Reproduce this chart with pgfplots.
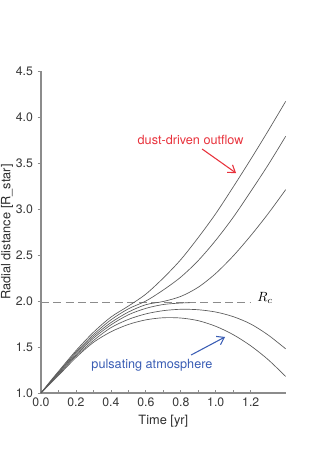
\documentclass[border=0pt]{standalone}
\usepackage{fontspec}
\setmainfont{TeX Gyre Heros}
\usepackage{pgfplots}
\pgfplotsset{compat=1.18}
\usetikzlibrary{arrows.meta}

\definecolor{curve}{HTML}{5A5A5A}
\definecolor{spine}{HTML}{8C8C8C}
\definecolor{dustred}{HTML}{E8323C}
\definecolor{pulsblue}{HTML}{3A5DB4}

\begin{document}
\begin{tikzpicture}
\useasboundingbox (-30.75pt,-52.5pt) rectangle (214.5pt,294.75pt);
\begin{axis}[
  at={(0,0)}, anchor=south west,
  scale only axis,
  width=183.5pt, height=241.5pt,
  xmin=0, xmax=1.4,
  ymin=1, ymax=4.5,
  axis lines*=left,
  axis line style={spine, line width=0.8pt},
  xtick={0,0.2,0.4,0.6,0.8,1.0,1.2},
  ytick={1,1.5,2,2.5,3,3.5,4,4.5},
  minor x tick num=1,
  xtick align=inside,
  ytick align=outside,
  major tick length=2.5pt,
  minor tick length=2.5pt,
  tick style={spine, line width=0.6pt},
  xticklabel style={/pgf/number format/.cd, fixed, fixed zerofill, precision=1},
  yticklabel style={/pgf/number format/.cd, fixed, fixed zerofill, precision=1},
  /pgf/number format/assume math mode=true,
  ticklabel style={font=\fontsize{9.2pt}{11pt}\selectfont, text=black!78},
  xlabel={Time [yr]},
  ylabel={Radial distance [R\_star]},
  every axis x label/.style={at={(axis description cs:0.5,0)}, anchor=center, yshift=-21.5pt, font=\fontsize{9.6pt}{11pt}\selectfont, text=black!82},
  every axis y label/.style={at={(axis description cs:0,0.5)}, xshift=-25.5pt, rotate=90, anchor=center, font=\fontsize{9.6pt}{11pt}\selectfont, text=black!82},
  clip=false,
]
% critical radius
\addplot[spine, line width=0.7pt, dash pattern=on 6pt off 3.2pt] coordinates {(0,1.98)(1.2,1.98)};

% three outflowing trajectories
\addplot[curve, line width=0.5pt, smooth] coordinates {
(0,1)(0.05,1.12)(0.1,1.235)(0.2,1.46)(0.3,1.66)(0.4,1.825)(0.5,1.945)(0.6,2.075)
(0.7,2.25)(0.8,2.45)(0.9,2.69)(1.0,2.95)(1.1,3.24)(1.2,3.54)(1.3,3.85)(1.4,4.17)};
\addplot[curve, line width=0.5pt, smooth] coordinates {
(0,1)(0.05,1.115)(0.1,1.225)(0.2,1.445)(0.3,1.635)(0.4,1.795)(0.5,1.915)(0.6,2.0)
(0.7,2.12)(0.8,2.26)(0.9,2.44)(1.0,2.66)(1.1,2.91)(1.2,3.19)(1.3,3.48)(1.4,3.79)};
\addplot[curve, line width=0.5pt, smooth] coordinates {
(0,1)(0.05,1.11)(0.1,1.22)(0.2,1.43)(0.3,1.615)(0.4,1.765)(0.5,1.88)(0.6,1.96)
(0.7,1.995)(0.8,2.05)(0.9,2.15)(1.0,2.3)(1.1,2.49)(1.2,2.71)(1.3,2.95)(1.4,3.21)};
% trajectory stalling at R_c
\addplot[curve, line width=0.5pt, smooth] coordinates {
(0,1)(0.05,1.105)(0.1,1.21)(0.2,1.415)(0.3,1.595)(0.4,1.74)(0.5,1.85)(0.6,1.92)
(0.7,1.962)(0.8,1.978)(0.85,1.981)};
% falling back
\addplot[curve, line width=0.5pt, smooth] coordinates {
(0,1)(0.05,1.1)(0.1,1.2)(0.2,1.4)(0.3,1.57)(0.4,1.71)(0.5,1.8)(0.6,1.86)
(0.7,1.895)(0.8,1.91)(0.9,1.905)(1.0,1.88)(1.1,1.83)(1.2,1.75)(1.3,1.63)(1.4,1.48)};
\addplot[curve, line width=0.5pt, smooth] coordinates {
(0,1)(0.05,1.095)(0.1,1.19)(0.2,1.385)(0.3,1.55)(0.4,1.665)(0.5,1.745)(0.6,1.795)
(0.7,1.818)(0.8,1.815)(0.9,1.786)(1.0,1.725)(1.1,1.634)(1.2,1.513)(1.3,1.362)(1.4,1.18)};

\node[font=\fontsize{9.5pt}{11pt}\selectfont, text=dustred] at (axis cs:0.856,3.75) {dust-driven outflow};
\draw[dustred, line width=0.8pt, -{Straight Barb[length=5pt, width=7pt]}] (axis cs:0.922,3.652) -- (axis cs:1.116,3.391);
\node[font=\fontsize{9.5pt}{11pt}\selectfont, text=pulsblue] at (axis cs:0.635,1.304) {pulsating atmosphere};
\draw[pulsblue, line width=0.8pt, -{Straight Barb[length=5pt, width=7pt]}] (axis cs:0.859,1.413) -- (axis cs:1.053,1.609);
\node[font=\fontsize{10pt}{11pt}\selectfont] at (axis cs:1.282,2.03) {$R_c$};
\end{axis}
\end{tikzpicture}
\end{document}
